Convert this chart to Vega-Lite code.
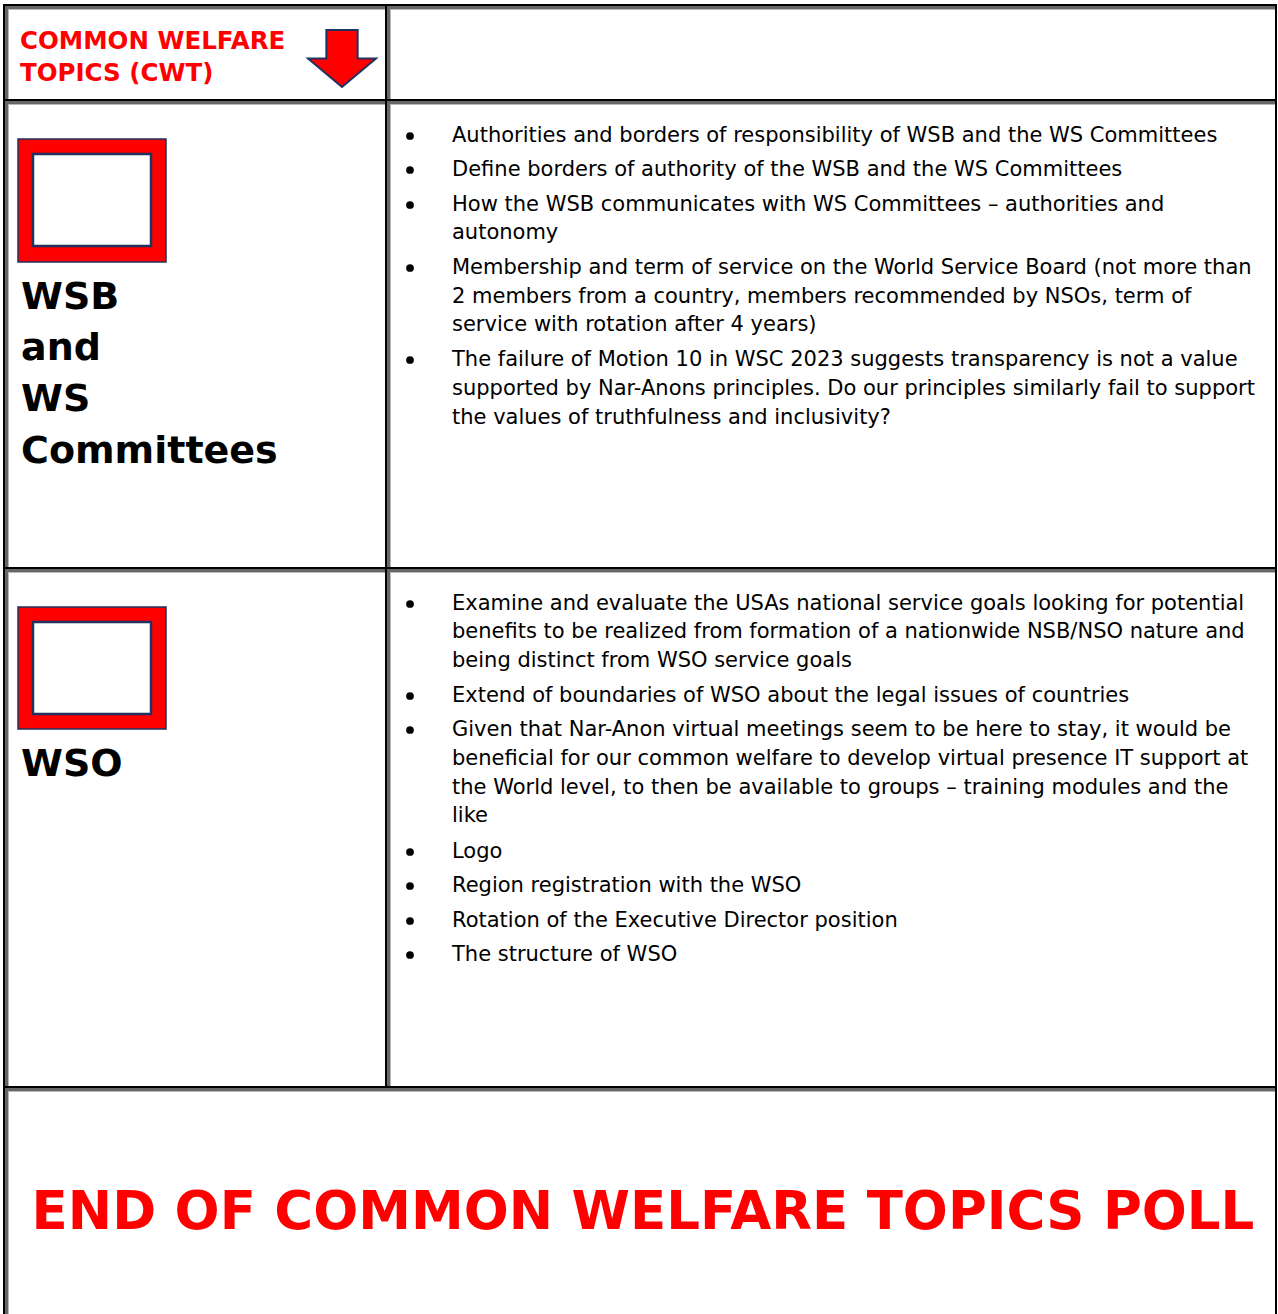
{
  "$schema": "https://vega.github.io/schema/vega-lite/v6.json",
  "autosize": {"type": "none"},
  "width": 1278,
  "height": 1314,
  "padding": 0,
  "background": "white",
  "config": {"view": {"stroke": null}},
  "datasets": {
    "frame": [{"x1": 3, "x2": 1277, "y1": 4, "y2": 1340}],
    "cells": [
      {"cell": "header-left", "x1": 5, "x2": 387, "y1": 6, "y2": 101},
      {"cell": "header-right", "x1": 387, "x2": 1277, "y1": 6, "y2": 101},
      {"cell": "wsb-label", "x1": 5, "x2": 387, "y1": 101, "y2": 569},
      {"cell": "wsb-topics", "x1": 387, "x2": 1277, "y1": 101, "y2": 569},
      {"cell": "wso-label", "x1": 5, "x2": 387, "y1": 569, "y2": 1088},
      {"cell": "wso-topics", "x1": 387, "x2": 1277, "y1": 569, "y2": 1088},
      {"cell": "closing", "x1": 5, "x2": 1277, "y1": 1088, "y2": 1340}
    ],
    "icons": [
      {"section": "WSB and WS Committees", "x1": 18, "x2": 166, "y1": 139, "y2": 262, "ix1": 33, "ix2": 151, "iy1": 154, "iy2": 246},
      {"section": "WSO", "x1": 18, "x2": 166, "y1": 607, "y2": 729, "ix1": 33, "ix2": 151, "iy1": 622, "iy2": 714}
    ],
    "arrow": [{"x": 342, "y": 58.5}],
    "bullets": [
      {"x": 410, "y": 136}, {"x": 410, "y": 170}, {"x": 410, "y": 205}, {"x": 410, "y": 268}, {"x": 410, "y": 360},
      {"x": 410, "y": 604}, {"x": 410, "y": 696}, {"x": 410, "y": 730}, {"x": 410, "y": 852}, {"x": 410, "y": 886}, {"x": 410, "y": 921}, {"x": 410, "y": 955}
    ],
    "texts": [
      {"role": "heading", "x": 20, "y": 48.5, "text": "COMMON WELFARE"},
      {"role": "heading", "x": 20, "y": 80.5, "text": "TOPICS (CWT)"},
      {"role": "section", "x": 21, "y": 309, "text": "WSB"},
      {"role": "section", "x": 21, "y": 360, "text": "and"},
      {"role": "section", "x": 21, "y": 411, "text": "WS"},
      {"role": "section", "x": 21, "y": 463, "text": "Committees"},
      {"role": "section", "x": 21, "y": 776, "text": "WSO"},
      {"role": "item", "x": 452, "y": 142, "text": "Authorities and borders of responsibility of WSB and the WS Committees"},
      {"role": "item", "x": 452, "y": 176, "text": "Define borders of authority of the WSB and the WS Committees"},
      {"role": "item", "x": 452, "y": 211, "text": "How the WSB communicates with WS Committees – authorities and"},
      {"role": "item", "x": 452, "y": 239, "text": "autonomy"},
      {"role": "item", "x": 452, "y": 274, "text": "Membership and term of service on the World Service Board (not more than"},
      {"role": "item", "x": 452, "y": 303, "text": "2 members from a country, members recommended by NSOs, term of"},
      {"role": "item", "x": 452, "y": 331, "text": "service with rotation after 4 years)"},
      {"role": "item", "x": 452, "y": 366, "text": "The failure of Motion 10 in WSC 2023 suggests transparency is not a value"},
      {"role": "item", "x": 452, "y": 395, "text": "supported by Nar-Anons principles. Do our principles similarly fail to support"},
      {"role": "item", "x": 452, "y": 424, "text": "the values of truthfulness and inclusivity?"},
      {"role": "item", "x": 452, "y": 610, "text": "Examine and evaluate the USAs national service goals looking for potential"},
      {"role": "item", "x": 452, "y": 638, "text": "benefits to be realized from formation of a nationwide NSB/NSO nature and"},
      {"role": "item", "x": 452, "y": 667, "text": "being distinct from WSO service goals"},
      {"role": "item", "x": 452, "y": 702, "text": "Extend of boundaries of WSO about the legal issues of countries"},
      {"role": "item", "x": 452, "y": 736, "text": "Given that Nar-Anon virtual meetings seem to be here to stay, it would be"},
      {"role": "item", "x": 452, "y": 765, "text": "beneficial for our common welfare to develop virtual presence IT support at"},
      {"role": "item", "x": 452, "y": 794, "text": "the World level, to then be available to groups – training modules and the"},
      {"role": "item", "x": 452, "y": 822, "text": "like"},
      {"role": "item", "x": 452, "y": 858, "text": "Logo"},
      {"role": "item", "x": 452, "y": 892, "text": "Region registration with the WSO"},
      {"role": "item", "x": 452, "y": 927, "text": "Rotation of the Executive Director position"},
      {"role": "item", "x": 452, "y": 961, "text": "The structure of WSO"},
      {"role": "closing", "x": 643, "y": 1229, "text": "END OF COMMON WELFARE TOPICS POLL"}
    ]
  },
  "layer": [
    {
      "data": {"name": "frame"},
      "mark": {"type": "rect", "color": "#000000"},
      "encoding": {
        "x": {"field": "x1", "type": "quantitative", "scale": {"domain": [0, 1278], "nice": false, "zero": false}, "axis": null},
        "x2": {"field": "x2"},
        "y": {"field": "y1", "type": "quantitative", "scale": {"domain": [0, 1314], "nice": false, "zero": false, "reverse": true}, "axis": null},
        "y2": {"field": "y2"}
      }
    },
    {
      "data": {"name": "cells"},
      "mark": {"type": "rect", "color": "#000000"},
      "encoding": {
        "x": {"field": "x1", "type": "quantitative", "axis": null},
        "x2": {"field": "x2"},
        "y": {"field": "y1", "type": "quantitative", "axis": null},
        "y2": {"field": "y2"}
      }
    },
    {
      "data": {"name": "cells"},
      "mark": {"type": "rect", "color": "#676767", "x2Offset": -2, "y2Offset": -2},
      "encoding": {
        "x": {"field": "x1", "type": "quantitative", "axis": null},
        "x2": {"field": "x2"},
        "y": {"field": "y1", "type": "quantitative", "axis": null},
        "y2": {"field": "y2"}
      }
    },
    {
      "data": {"name": "cells"},
      "mark": {"type": "rect", "color": "#b8b8b8", "xOffset": 3, "yOffset": 3, "x2Offset": -2, "y2Offset": -2},
      "encoding": {
        "x": {"field": "x1", "type": "quantitative", "axis": null},
        "x2": {"field": "x2"},
        "y": {"field": "y1", "type": "quantitative", "axis": null},
        "y2": {"field": "y2"}
      }
    },
    {
      "data": {"name": "cells"},
      "mark": {"type": "rect", "color": "#ffffff", "xOffset": 4, "yOffset": 4, "x2Offset": -2, "y2Offset": -2},
      "encoding": {
        "x": {"field": "x1", "type": "quantitative", "axis": null},
        "x2": {"field": "x2"},
        "y": {"field": "y1", "type": "quantitative", "axis": null},
        "y2": {"field": "y2"}
      }
    },
    {
      "data": {"name": "icons"},
      "mark": {"type": "rect", "fill": "#ff0000", "stroke": "#1f3260", "strokeWidth": 1.5},
      "encoding": {
        "x": {"field": "x1", "type": "quantitative", "axis": null},
        "x2": {"field": "x2"},
        "y": {"field": "y1", "type": "quantitative", "axis": null},
        "y2": {"field": "y2"}
      }
    },
    {
      "data": {"name": "icons"},
      "mark": {"type": "rect", "fill": "#ffffff", "stroke": "#1f3260", "strokeWidth": 2.5},
      "encoding": {
        "x": {"field": "ix1", "type": "quantitative", "axis": null},
        "x2": {"field": "ix2"},
        "y": {"field": "iy1", "type": "quantitative", "axis": null},
        "y2": {"field": "iy2"}
      }
    },
    {
      "data": {"name": "arrow"},
      "mark": {"type": "point", "filled": true, "fill": "#ff0000", "stroke": "#1f3260", "strokeWidth": 2, "opacity": 1, "size": 4624, "shape": "M-0.46,-0.84L0.46,-0.84L0.46,0L1,0L0,0.84L-1,0L-0.46,0Z"},
      "encoding": {
        "x": {"field": "x", "type": "quantitative", "axis": null},
        "y": {"field": "y", "type": "quantitative", "axis": null}
      }
    },
    {
      "data": {"name": "bullets"},
      "mark": {"type": "point", "shape": "circle", "filled": true, "color": "#000000", "opacity": 1, "size": 60},
      "encoding": {
        "x": {"field": "x", "type": "quantitative", "axis": null},
        "y": {"field": "y", "type": "quantitative", "axis": null}
      }
    },
    {
      "data": {"name": "texts"},
      "transform": [{"filter": "datum.role === 'heading'"}],
      "mark": {"type": "text", "align": "left", "baseline": "alphabetic", "font": "DejaVu Sans", "fontWeight": "bold", "fontSize": 24.5, "color": "#ff0000"},
      "encoding": {
        "x": {"field": "x", "type": "quantitative", "axis": null},
        "y": {"field": "y", "type": "quantitative", "axis": null},
        "text": {"field": "text"}
      }
    },
    {
      "data": {"name": "texts"},
      "transform": [{"filter": "datum.role === 'section'"}],
      "mark": {"type": "text", "align": "left", "baseline": "alphabetic", "font": "DejaVu Sans", "fontWeight": "bold", "fontSize": 38, "color": "#000000"},
      "encoding": {
        "x": {"field": "x", "type": "quantitative", "axis": null},
        "y": {"field": "y", "type": "quantitative", "axis": null},
        "text": {"field": "text"}
      }
    },
    {
      "data": {"name": "texts"},
      "transform": [{"filter": "datum.role === 'item'"}],
      "mark": {"type": "text", "align": "left", "baseline": "alphabetic", "font": "DejaVu Sans", "fontSize": 21, "color": "#000000"},
      "encoding": {
        "x": {"field": "x", "type": "quantitative", "axis": null},
        "y": {"field": "y", "type": "quantitative", "axis": null},
        "text": {"field": "text"}
      }
    },
    {
      "data": {"name": "texts"},
      "transform": [{"filter": "datum.role === 'closing'"}],
      "mark": {"type": "text", "align": "center", "baseline": "alphabetic", "font": "DejaVu Sans", "fontWeight": "bold", "fontSize": 53, "color": "#ff0000"},
      "encoding": {
        "x": {"field": "x", "type": "quantitative", "axis": null},
        "y": {"field": "y", "type": "quantitative", "axis": null},
        "text": {"field": "text"}
      }
    }
  ]
}
